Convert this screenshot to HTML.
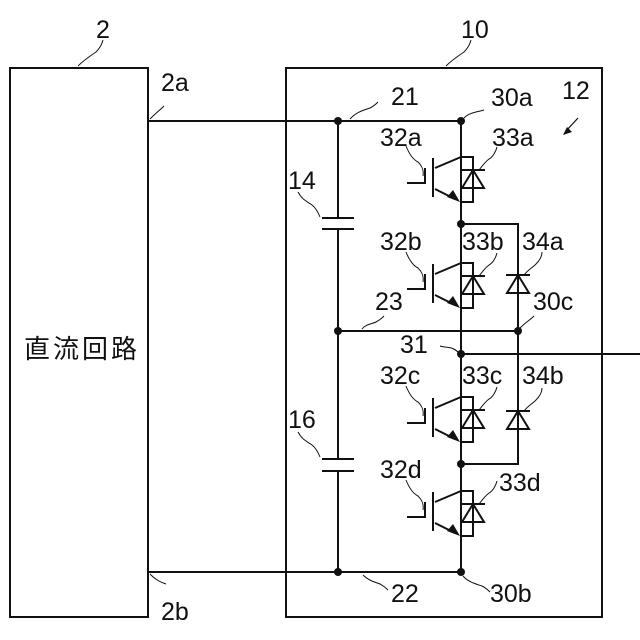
<!DOCTYPE html>
<html><head><style>body{margin:0;background:#fff}svg{display:block}text{font-family:"Liberation Sans",sans-serif;font-size:25px;fill:#111}</style></head>
<body>
<svg width="640" height="640" viewBox="0 0 640 640" xmlns="http://www.w3.org/2000/svg">
<defs>
<g id="igbt" stroke="#111" stroke-width="2" fill="none">
  <polyline points="0,0 12,0 12,45 0,45"/>
  <line x1="0" y1="0" x2="-26" y2="11"/>
  <line x1="-26" y1="32" x2="-6" y2="42"/>
  <polygon points="-1,45 -14,40 -8,33" fill="#111" stroke="none"/>
  <line x1="-28" y1="1" x2="-28" y2="40"/>
  <polyline points="-54,26 -36,26 -36,11"/>
  <line x1="0" y1="13" x2="24" y2="13"/>
  <polygon points="12,13 1,31 23,31"/>
  <path d="M18,13 C22,8 24,5 28,2 C32,0 35,-6 36,-10" stroke-width="1"/>
</g>
<g id="diode" stroke="#111" stroke-width="2" fill="none">
  <line x1="-12" y1="0" x2="12" y2="0"/>
  <polygon points="0,0 -11,18 11,18"/>
</g>
</defs>
<g stroke="#111" stroke-width="2" fill="none">
<rect x="10" y="68" width="138" height="549"/>
<rect x="286" y="68" width="316" height="549"/>
<line x1="148" y1="121" x2="461" y2="121"/>
<line x1="148" y1="572" x2="461" y2="572"/>
<line x1="338" y1="121" x2="338" y2="218"/>
<line x1="338" y1="229" x2="338" y2="459"/>
<line x1="338" y1="471" x2="338" y2="572"/>
<line x1="322" y1="218" x2="354" y2="218"/><line x1="322" y1="229" x2="354" y2="229"/>
<line x1="322" y1="459" x2="354" y2="459"/><line x1="322" y1="471" x2="354" y2="471"/>
<line x1="338" y1="331" x2="518" y2="331"/>
<line x1="461" y1="354" x2="640" y2="354"/>
<line x1="461" y1="121" x2="461" y2="572"/>
<polyline points="461,224 518,224 518,464 461,464"/>
</g>
<use href="#igbt" x="461" y="157"/>
<use href="#igbt" x="461" y="263"/>
<use href="#igbt" x="461" y="397"/>
<use href="#igbt" x="461" y="491"/>
<use href="#diode" x="518" y="275"/>
<use href="#diode" x="518" y="411"/>
<g fill="#111">
<circle cx="461" cy="121" r="4"/><circle cx="338" cy="121" r="4"/>
<circle cx="461" cy="224" r="4"/><circle cx="338" cy="331" r="4"/>
<circle cx="518" cy="331" r="4"/><circle cx="461" cy="354" r="4"/>
<circle cx="461" cy="464" r="4"/><circle cx="461" cy="572" r="4"/>
<circle cx="338" cy="572" r="4"/>
</g>
<g stroke="#111" stroke-width="1" fill="none">
<path d="M78,66 C84,60 90,56 96,52 C100,48 102,44 103,40"/>
<path d="M446,66 C452,60 458,56 464,52 C468,48 470,44 471,40"/>
<path d="M150,119 C156,113 160,110 164,106"/>
<path d="M150,574 C156,580 160,582 166,584"/>
<path d="M350,119 C356,112 364,110 370,108 C374,106 376,104 378,102"/>
<path d="M464,118 C470,112 478,112 484,110"/>
<path d="M298,192 C302,200 308,202 312,205 C316,208 318,212 320,217"/>
<path d="M298,432 C302,440 308,442 312,445 C316,448 318,452 320,457"/>
<path d="M362,329 C366,324 372,324 376,322 C380,320 382,318 384,316"/>
<path d="M520,328 C526,322 530,320 534,316"/>
<path d="M440,346 C446,348 452,346 458,352"/>
<path d="M406,146 C410,156 414,160 418,162 C422,166 424,170 423,176"/>
<path d="M406,252 C410,262 414,266 418,268 C422,272 424,276 423,282"/>
<path d="M406,386 C410,396 414,400 418,402 C422,406 424,410 423,416"/>
<path d="M406,480 C410,490 414,494 418,496 C422,500 424,504 423,510"/>
<path d="M524,275 C528,270 532,268 536,264 C540,260 542,256 542,252"/>
<path d="M524,411 C528,406 532,404 536,400 C540,396 542,392 542,388"/>
<path d="M363,575 C368,580 374,582 380,584 C384,586 386,588 388,590"/>
<path d="M463,576 C468,582 476,584 482,586 C486,588 488,590 490,592"/>
</g>
<path d="M566,131 L578,118" stroke="#111" stroke-width="1.2"/>
<polygon points="563,135 572,132 567,127" fill="#111"/>
<text x="96" y="38">2</text>
<text x="461" y="38">10</text>
<text x="161" y="91">2a</text>
<text x="161" y="620">2b</text>
<text x="391" y="105">21</text>
<text x="491" y="106">30a</text>
<text x="562" y="99">12</text>
<text x="380" y="146">32a</text>
<text x="492" y="146">33a</text>
<text x="288" y="189">14</text>
<text x="380" y="250">32b</text>
<text x="462" y="250">33b</text>
<text x="522" y="250">34a</text>
<text x="375" y="310">23</text>
<text x="533" y="310">30c</text>
<text x="400" y="353">31</text>
<text x="380" y="384">32c</text>
<text x="462" y="384">33c</text>
<text x="522" y="384">34b</text>
<text x="288" y="428">16</text>
<text x="380" y="478">32d</text>
<text x="499" y="491">33d</text>
<text x="391" y="602">22</text>
<text x="490" y="602">30b</text>
<text x="24" y="358" style="font-family:'Liberation Sans','Noto Sans CJK JP',sans-serif;font-size:26px;letter-spacing:3px">直流回路</text>
</svg>
</body></html>
